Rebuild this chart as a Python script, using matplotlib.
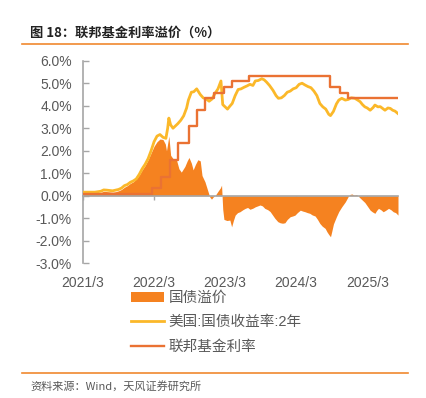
import matplotlib
matplotlib.use("Agg")
import matplotlib.pyplot as plt
from matplotlib.lines import Line2D
from matplotlib.patches import Patch

plt.rcParams['font.family'] = ['Liberation Sans', 'Noto Sans CJK SC', 'DejaVu Sans']

# x: months since 2021/3 (axis start)
tick_pos = [0, 12, 24, 36, 48]
tick_labels = ["2021/3", "2022/3", "2023/3", "2024/3", "2025/3"]
y_ticks = [-3, -2, -1, 0, 1, 2, 3, 4, 5, 6]

# US 2Y Treasury yield (%)
y2_t = [0, 1, 2, 3, 3.5, 4, 5, 5.5, 6, 6.5, 7, 7.5, 8, 8.5, 9, 9.5, 10, 10.5, 11, 11.5,
        12, 12.5, 13, 13.5, 14, 14.3, 14.5, 14.8, 15.2, 15.6, 16, 16.5, 17, 17.5, 17.8,
        18.3, 18.7, 19.2, 19.8, 20.3, 20.8, 21.3, 21.8, 22.3, 22.8, 23.3, 23.6, 24, 24.4,
        24.8, 25.2, 25.7, 26.2, 26.7, 27.2, 27.7, 28.2, 28.7, 29.1, 29.6, 30.2, 30.6, 31,
        31.5, 32.1, 32.6, 33, 33.5, 34, 34.5, 35, 35.5, 36, 36.5, 37, 37.5, 38, 38.5, 39,
        39.5, 40, 40.5, 41, 41.5, 41.8, 42.3, 42.8, 43.2, 43.7, 44.3, 44.8, 45.3, 45.9,
        46.4, 46.8, 47.2, 47.6, 48, 48.5, 49, 49.3, 49.8, 50.2, 50.6, 51, 51.5, 51.9,
        52.3, 52.7, 53.2]
y2_v = [0.16, 0.16, 0.16, 0.2, 0.26, 0.25, 0.22, 0.25, 0.28, 0.34, 0.45, 0.5, 0.6, 0.66,
        0.75, 0.95, 1.2, 1.4, 1.65, 2.0, 2.4, 2.65, 2.72, 2.6, 2.55, 3.0, 3.45, 3.15, 3.0,
        3.1, 3.2, 3.35, 3.55, 3.9, 4.25, 4.6, 4.62, 4.75, 4.5, 4.35, 4.3, 4.2, 4.3, 4.55,
        4.75, 5.1, 4.05, 3.95, 3.85, 3.98, 4.1, 4.45, 4.72, 4.75, 4.82, 4.88, 4.95, 4.9,
        5.1, 5.12, 5.2, 5.15, 5.05, 4.9, 4.68, 4.45, 4.33, 4.35, 4.45, 4.6, 4.65, 4.75,
        4.8, 4.95, 5.0, 4.92, 4.85, 4.8, 4.65, 4.45, 4.1, 3.95, 3.85, 3.62, 3.56, 3.75,
        4.08, 4.25, 4.33, 4.25, 4.28, 4.35, 4.33, 4.25, 4.18, 4.05, 3.95, 3.9, 3.8, 3.92,
        4.03, 3.95, 3.96, 3.88, 3.8, 3.9, 3.88, 3.8, 3.76, 3.65]

# Federal funds rate (%), step changes
ff_t = [0, 11.65, 13.25, 14.65, 16.05, 17.85, 19.2, 20.6, 22.2, 23.85, 25.2, 28.0,
        41.7, 43.35, 44.7, 53.2]
ff_v = [0.08, 0.33, 0.83, 1.58, 2.33, 3.08, 3.83, 4.33, 4.58, 4.83, 5.08, 5.33,
        4.83, 4.58, 4.33, 4.33]

# Treasury premium (%)
sp_t = [0, 2.5, 3, 3.5, 5, 5.5, 6, 6.5, 7, 7.5, 8, 8.5, 9, 9.5, 10, 10.5, 11, 11.5, 12,
        12.5, 13, 13.5, 13.9, 14.1, 14.5, 14.8, 15.2, 15.8, 16.2, 16.6, 17.2, 17.6, 17.9,
        18.3, 18.6, 19, 19.4, 19.8, 20.1, 20.6, 21.1, 21.4, 21.7, 22.0, 22.3, 22.8, 23.2,
        23.4, 23.6, 23.8, 24.3, 24.8, 25.1, 25.4, 25.7, 26.1, 26.5, 27, 27.4, 27.8, 28.2,
        28.7, 29.1, 29.5, 29.9, 30.3, 30.7, 31.2, 31.6, 32, 32.4, 32.9, 33.3, 33.7, 34.1,
        34.5, 35, 35.4, 35.8, 36.2, 36.7, 37.1, 37.5, 37.9, 38.3, 38.7, 39.2, 39.6, 40,
        40.4, 40.9, 41.2, 41.5, 41.8, 42.0, 42.3, 42.8, 43.2, 43.7, 44.3, 44.8, 45.1,
        45.4, 45.8, 46.2, 46.5, 46.8, 47.2, 47.6, 48, 48.5, 48.9, 49.3, 49.6, 49.9, 50.3,
        50.7, 51.1, 51.6, 52, 52.4, 52.8, 53.2]
sp_v = [0.1, 0.1, 0.15, 0.2, 0.16, 0.18, 0.22, 0.28, 0.38, 0.45, 0.55, 0.62, 0.75, 0.92,
        1.15, 1.35, 1.6, 1.9, 2.2, 2.4, 2.52, 2.5, 2.3, 2.0, 2.65, 1.8, 1.65, 1.58, 1.2,
        1.05, 1.3, 1.55, 1.7, 1.45, 1.15, 1.4, 1.6, 1.55, 0.9, 0.62, 0.2, -0.05, -0.15,
        -0.05, 0.0, 0.2, 0.35, 0.47, -0.6, -1.05, -1.1, -1.08, -1.38, -1.1, -0.86, -0.75,
        -0.71, -0.62, -0.56, -0.52, -0.6, -0.55, -0.49, -0.45, -0.41, -0.45, -0.56, -0.62,
        -0.7, -0.85, -1.0, -1.15, -1.2, -1.22, -1.2, -1.05, -0.93, -0.9, -0.86, -0.75,
        -0.64, -0.68, -0.71, -0.75, -0.78, -0.85, -0.9, -1.05, -1.23, -1.35, -1.45, -1.6,
        -1.72, -1.82, -1.6, -1.25, -0.93, -0.7, -0.49, -0.27, -0.03, 0.06, 0.08, 0.03,
        0.05, -0.02, -0.1, -0.2, -0.3, -0.45, -0.64, -0.72, -0.78, -0.65, -0.56, -0.62,
        -0.71, -0.65, -0.56, -0.62, -0.71, -0.75, -0.86]

c_area = '#F58220'
c_yellow = '#FBB829'
c_red = '#EA7233'
c_gray = '#A6A6A6'
c_text = '#595959'

fig = plt.figure(figsize=(4.27, 3.98), dpi=100)
ax = fig.add_axes([83 / 427, 1 - 263.3 / 398, (398 - 83) / 427, (263.3 - 60.7) / 398])

ax.fill_between(sp_t, sp_v, 0, color=c_area, linewidth=0, zorder=2)
ax.plot(y2_t, y2_v, color=c_yellow, linewidth=2.0, zorder=3)
ax.step(ff_t, ff_v, where='post', color=c_red, linewidth=1.7, zorder=4)

ax.set_xlim(0, 53.2)
ax.set_ylim(-3, 6)
ax.set_yticks(y_ticks)
ax.set_yticklabels([f"{v:.1f}%" for v in y_ticks])

for s in ['top', 'right']:
    ax.spines[s].set_visible(False)
ax.spines['left'].set_color(c_gray)
ax.spines['left'].set_linewidth(1.2)
ax.spines['bottom'].set_position(('data', 0))
ax.spines['bottom'].set_color(c_gray)
ax.spines['bottom'].set_linewidth(1.2)
ax.spines['bottom'].set_zorder(5)

ax.tick_params(axis='y', direction='in', length=4, width=1, color=c_gray,
               labelcolor=c_text, labelsize=10, pad=8)
ax.set_xticks(tick_pos)
ax.tick_params(axis='x', direction='out', length=3, width=1, color=c_gray,
               labelbottom=False)

sec = ax.secondary_xaxis(0)
sec.set_xticks(tick_pos)
sec.set_xticklabels(tick_labels)
sec.tick_params(axis='x', length=0, pad=9, labelcolor=c_text, labelsize=10)
for s in sec.spines.values():
    s.set_visible(False)

handles = [Patch(facecolor=c_area, edgecolor='none'),
           Line2D([], [], color=c_yellow, linewidth=2.0),
           Line2D([], [], color=c_red, linewidth=1.7)]
labels = ["国债溢价", "美国:国债收益率:2年", "联邦基金利率"]
leg = fig.legend(handles, labels, loc='upper left', bbox_to_anchor=(125 / 427, 1 - 285 / 398),
                 frameon=False, fontsize=10.5, handlelength=2.3, handleheight=0.7,
                 labelspacing=0.72, handletextpad=0.3, borderaxespad=0)
for t in leg.get_texts():
    t.set_color(c_text)

fig.text(30 / 427, 1 - 33 / 398, "图 18：联邦基金利率溢价（%）", fontsize=9.5,
         fontweight='bold', color='#222222', va='center', ha='left',
         family=['Noto Sans CJK SC', 'DejaVu Sans'])
fig.add_artist(Line2D([22 / 427, 408 / 427], [1 - 44.3 / 398, 1 - 44.3 / 398],
                      color='#F0892F', linewidth=1.2, transform=fig.transFigure))
fig.add_artist(Line2D([22 / 427, 408 / 427], [1 - 373.3 / 398, 1 - 373.3 / 398],
                      color='#F0892F', linewidth=1.2, transform=fig.transFigure))
fig.text(30 / 427, 1 - 386 / 398, "资料来源：Wind，天风证券研究所", fontsize=8,
         color=c_text, va='center', ha='left',
         family=['Noto Sans CJK SC', 'DejaVu Sans'])

fig.savefig("out.png", dpi=100)
